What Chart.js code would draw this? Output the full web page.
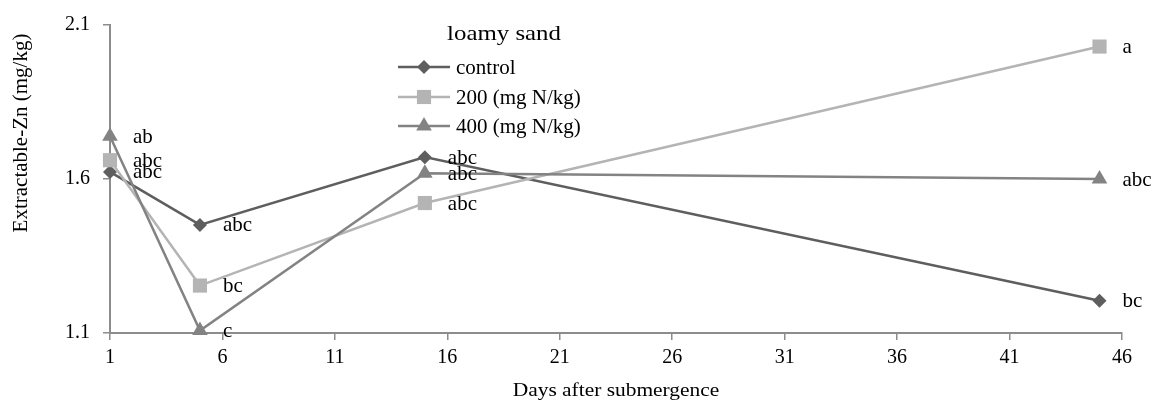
<!DOCTYPE html>
<html><head><meta charset="utf-8">
<script src="https://cdn.jsdelivr.net/npm/chart.js@4.4.0/dist/chart.umd.min.js"></script>
<style>html,body{margin:0;padding:0;background:#fff;}#wrap{width:1151px;height:402px;}</style>
</head><body><div id="wrap"><canvas id="c" width="1151" height="402"></canvas></div>
<script>
const days = [1, 5, 15, 45];
const seriesNames = ['control', '200 (mg N/kg)', '400 (mg N/kg)'];
const controlValues = [1.623, 1.451, 1.671, 1.205];
const n200Values = [1.661, 1.254, 1.522, 2.030];
const n400Values = [1.739, 1.108, 1.619, 1.600];
const controlLabels = ['abc', 'abc', 'abc', 'bc'];
const n200Labels = ['abc', 'bc', 'abc', 'a'];
const n400Labels = ['ab', 'c', 'abc', 'abc'];
const xTicks = [1, 6, 11, 16, 21, 26, 31, 36, 41, 46];
const yTicks = [1.1, 1.6, 2.1];
const legendTitle = 'loamy sand';
const xTitle = 'Days after submergence';
const yTitle = 'Extractable-Zn (mg/kg)';

const FONT = '"Liberation Serif", "Times New Roman", serif';
const colors = ['#5e5e5e', '#b4b4b4', '#838383'];
const styles = ['rectRot', 'rect', 'triangle'];
const radii = [7, 10, 9];

function pts(vals) { return days.map((d, i) => ({ x: d, y: vals[i] })); }

function drawMarker(ctx, style, x, y, r, color) {
  ctx.save();
  ctx.fillStyle = color;
  ctx.beginPath();
  if (style === 'rect') {
    const s = Math.SQRT1_2 * r;
    ctx.rect(x - s, y - s, 2 * s, 2 * s);
  } else if (style === 'rectRot') {
    ctx.moveTo(x - r, y); ctx.lineTo(x, y - r); ctx.lineTo(x + r, y); ctx.lineTo(x, y + r); ctx.closePath();
  } else {
    let a = 0;
    ctx.moveTo(x + Math.sin(a) * r, y - Math.cos(a) * r);
    a += 2 * Math.PI / 3; ctx.lineTo(x + Math.sin(a) * r, y - Math.cos(a) * r);
    a += 2 * Math.PI / 3; ctx.lineTo(x + Math.sin(a) * r, y - Math.cos(a) * r);
    ctx.closePath();
  }
  ctx.fill();
  ctx.restore();
}

function stretchedText(ctx, text, x, y, sx) {
  ctx.save();
  ctx.translate(x, y);
  ctx.scale(sx, 1);
  ctx.fillText(text, 0, 0);
  ctx.restore();
}

const labelPlugin = {
  id: 'pointLabels',
  afterDatasetsDraw(chart) {
    const ctx = chart.ctx;
    ctx.save();
    ctx.font = '21px ' + FONT;
    ctx.fillStyle = '#000';
    ctx.textAlign = 'left';
    ctx.textBaseline = 'middle';
    chart.data.datasets.forEach((ds, i) => {
      const meta = chart.getDatasetMeta(i);
      meta.data.forEach((pt, j) => {
        ctx.fillText(ds.pointLabels[j], pt.x + 23, pt.y + 1);
      });
    });
    ctx.restore();
  }
};

const legendPlugin = {
  id: 'customLegend',
  afterDraw(chart) {
    const ctx = chart.ctx;
    ctx.save();
    ctx.fillStyle = '#000';
    ctx.textBaseline = 'middle';
    ctx.textAlign = 'center';
    ctx.font = '22px ' + FONT;
    stretchedText(ctx, legendTitle, 504, 34, 1.13);
    ctx.font = '21px ' + FONT;
    ctx.textAlign = 'left';
    const rows = [67, 97, 126];
    chart.data.datasets.forEach((ds, i) => {
      const y = rows[i];
      ctx.strokeStyle = ds.borderColor;
      ctx.lineWidth = 2.5;
      ctx.beginPath(); ctx.moveTo(398, y); ctx.lineTo(450, y); ctx.stroke();
      drawMarker(ctx, styles[i], 424, y, radii[i], ds.borderColor);
      ctx.fillStyle = '#000';
      ctx.fillText(ds.label, 456, y + 1);
    });
    // axis titles
    const ca = chart.chartArea;
    ctx.font = '18px ' + FONT;
    ctx.textAlign = 'center';
    stretchedText(ctx, xTitle, (ca.left + ca.right) / 2, 391, 1.19);
    ctx.font = '21px ' + FONT;
    ctx.translate(21, 133);
    ctx.rotate(-Math.PI / 2);
    ctx.fillText(yTitle, 0, 0);
    ctx.restore();
  }
};

const mkDs = (label, vals, labs, i, order) => ({
  label: label,
  data: pts(vals),
  pointLabels: labs,
  borderColor: colors[i],
  backgroundColor: colors[i],
  pointBackgroundColor: colors[i],
  pointBorderColor: colors[i],
  pointBorderWidth: 0,
  pointStyle: styles[i],
  pointRadius: radii[i],
  pointHoverRadius: radii[i],
  borderWidth: 2.5,
  tension: 0,
  fill: false,
  clip: false,
  order: order
});

new Chart(document.getElementById('c'), {
  type: 'line',
  data: {
    datasets: [
      mkDs(seriesNames[0], controlValues, controlLabels, 0, 3),
      mkDs(seriesNames[1], n200Values, n200Labels, 1, 2),
      mkDs(seriesNames[2], n400Values, n400Labels, 2, 1)
    ]
  },
  options: {
    responsive: false,
    devicePixelRatio: 1,
    animation: false,
    layout: { padding: { top: 24, right: 29, left: 0, bottom: 0 } },
    plugins: { legend: { display: false }, tooltip: { enabled: false } },
    scales: {
      x: {
        type: 'linear', min: 1, max: 46,
        afterBuildTicks: s => { s.ticks = xTicks.map(v => ({ value: v })); },
        afterFit: s => { s.height = 69; },
        grid: { display: true, drawOnChartArea: false, drawTicks: true, tickLength: 7, color: '#8c8c8c', lineWidth: 1.5 },
        border: { display: true, color: '#8c8c8c', width: 2 },
        ticks: { font: { family: FONT, size: 20 }, color: '#000', padding: 6, maxRotation: 0, autoSkip: false }
      },
      y: {
        type: 'linear', min: 1.1, max: 2.1,
        afterBuildTicks: s => { s.ticks = yTicks.map(v => ({ value: v })); },
        afterFit: s => { s.width = 110; },
        grid: { display: true, drawOnChartArea: false, drawTicks: true, tickLength: 7, color: '#8c8c8c', lineWidth: 1.5 },
        border: { display: true, color: '#8c8c8c', width: 2 },
        ticks: { font: { family: FONT, size: 20 }, color: '#000', padding: 13, callback: v => Number(v).toFixed(1) }
      }
    }
  },
  plugins: [labelPlugin, legendPlugin]
});
</script></body></html>
